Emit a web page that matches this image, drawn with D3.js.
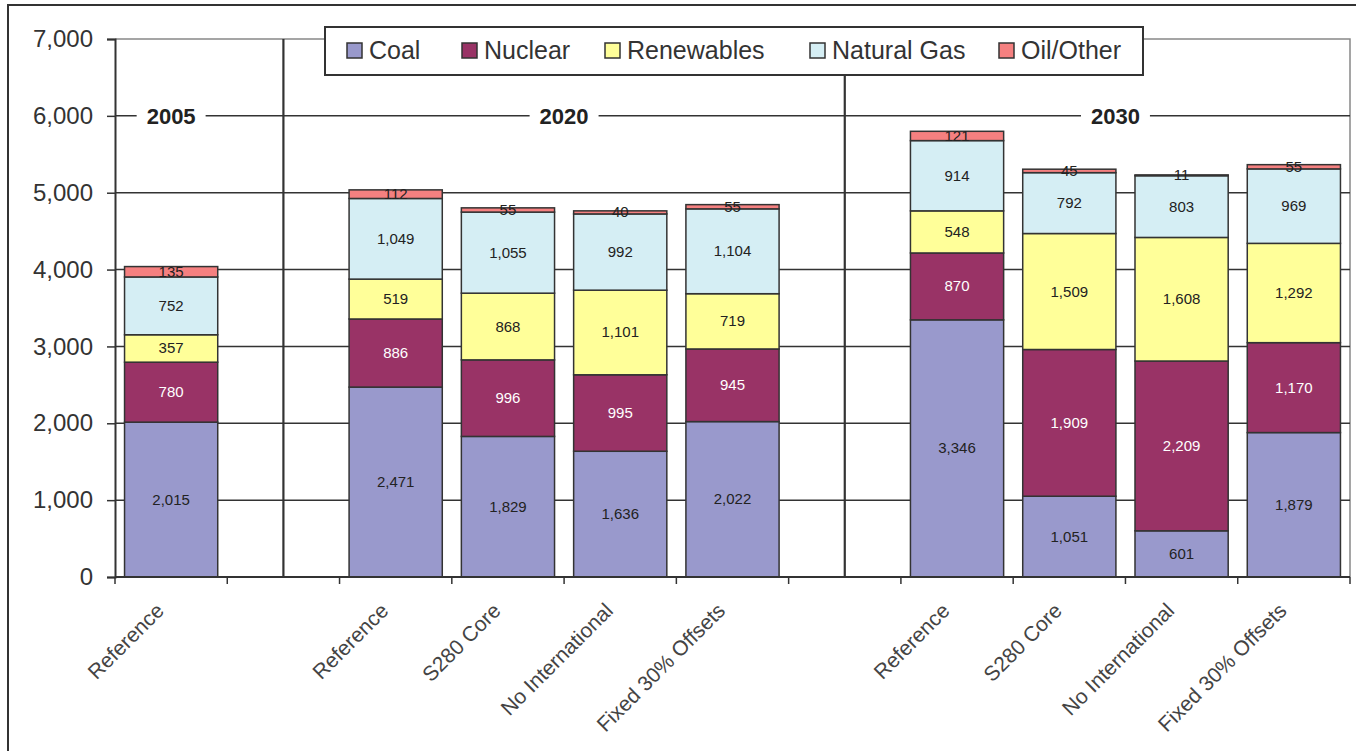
<!DOCTYPE html>
<html>
<head>
<meta charset="utf-8">
<script src="https://cdn.jsdelivr.net/npm/d3@7"></script>
<style>
    body { margin: 0; background: #fff; }
    text { font-family: "Liberation Sans", Arial, sans-serif; }
</style>
</head>
<body>
<svg id="chart" width="1356" height="751"></svg>
<script>
// slots on the x axis (two empty ones separate the years)
var slots = ["r05", "gap1", "r20", "s20", "n20", "f20", "gap2", "r30", "s30", "n30", "f30"];
var slotLabels = ["Reference", "", "Reference", "S280 Core", "No International", "Fixed 30% Offsets",
    "", "Reference", "S280 Core", "No International", "Fixed 30% Offsets"];

var seriesNames = ["Coal", "Nuclear", "Renewables", "Natural Gas", "Oil/Other"];
var coal       = [2015, null, 2471, 1829, 1636, 2022, null, 3346, 1051, 601, 1879];
var nuclear    = [780,  null, 886,  996,  995,  945,  null, 870,  1909, 2209, 1170];
var renewables = [357,  null, 519,  868,  1101, 719,  null, 548,  1509, 1608, 1292];
var naturalGas = [752,  null, 1049, 1055, 992,  1104, null, 914,  792,  803,  969];
var oilOther   = [135,  null, 112,  55,   40,   55,   null, 121,  45,   11,   55];

var years = ["2005", "2020", "2030"];
var yearSlots = [["r05"], ["r20", "s20", "n20", "f20"], ["r30", "s30", "n30", "f30"]];
var dividerSlots = ["gap1", "gap2"];
var yTicks = [0, 1000, 2000, 3000, 4000, 5000, 6000, 7000];

var colors = ["#9999cc", "#993366", "#ffff99", "#d5eef4", "#f58080"];
var labelColors = ["#222", "#fff", "#222", "#222", "#222"];

drawChart();

function drawChart() {
    var svg = d3.select("#chart");
    var pLeft = 115, pRight = 1350, pTop = 39, pBottom = 577;

    var x = d3.scaleBand().domain(slots).range([pLeft, pRight]).paddingInner(0.17).paddingOuter(0.085);
    var y = d3.scaleLinear().domain([0, 7000]).range([pBottom, pTop]);

    // outer frame
    svg.append("rect")
        .attr("x", 8).attr("y", 5)
        .attr("width", 1360).attr("height", 760)
        .attr("fill", "none").attr("stroke", "#333").attr("stroke-width", 2);

    // plot border (light)
    svg.append("path")
        .attr("d", "M" + pLeft + "," + pTop + "H" + pRight + "V" + pBottom)
        .attr("fill", "none").attr("stroke", "#888").attr("stroke-width", 1.5);

    // gridlines
    svg.append("g").selectAll("line")
        .data(yTicks.filter(function (d) { return d > 0 && d < 7000; }))
        .enter().append("line")
        .attr("x1", pLeft).attr("x2", pRight)
        .attr("y1", function (d) { return y(d); })
        .attr("y2", function (d) { return y(d); })
        .attr("stroke", "#333").attr("stroke-width", 1.5);

    // year dividers
    svg.append("g").selectAll("line")
        .data(dividerSlots)
        .enter().append("line")
        .attr("x1", function (d) { return x(d) + x.bandwidth() / 2; })
        .attr("x2", function (d) { return x(d) + x.bandwidth() / 2; })
        .attr("y1", pTop).attr("y2", pBottom)
        .attr("stroke", "#333").attr("stroke-width", 2.2);

    // year labels on the 6000 line
    svg.append("g").selectAll("g")
        .data(years)
        .enter().append("g")
        .each(function (d, i) {
            var s = yearSlots[i];
            var cx = (x(s[0]) + x(s[s.length - 1]) + x.bandwidth()) / 2;
            if (i == 2) cx -= 10;
            var g = d3.select(this);
            var t = g.append("text")
                .attr("x", cx).attr("y", y(6000) + 8)
                .attr("text-anchor", "middle")
                .attr("font-size", 22).attr("font-weight", "bold").attr("fill", "#222")
                .text(d);
            var w = t.node().getComputedTextLength();
            g.insert("rect", "text")
                .attr("x", cx - w / 2 - 10).attr("y", y(6000) - 10)
                .attr("width", w + 20).attr("height", 20)
                .attr("fill", "#fff");
        });

    // stacked bars
    var rows = slots.map(function (s, i) {
        return {slot: s, "Coal": coal[i], "Nuclear": nuclear[i], "Renewables": renewables[i],
            "Natural Gas": naturalGas[i], "Oil/Other": oilOther[i]};
    }).filter(function (r) { return r["Coal"] != null; });

    var layers = d3.stack().keys(seriesNames)(rows);

    var layerG = svg.append("g").selectAll("g")
        .data(layers)
        .enter().append("g")
        .attr("fill", function (d, i) { return colors[i]; });

    layerG.selectAll("rect")
        .data(function (d) { return d; })
        .enter().append("rect")
        .attr("x", function (d) { return x(d.data.slot); })
        .attr("width", x.bandwidth())
        .attr("y", function (d) { return y(d[1]); })
        .attr("height", function (d) { return y(d[0]) - y(d[1]); })
        .attr("stroke", "#333").attr("stroke-width", 1.5);

    layerG.each(function (layer, i) {
        d3.select(this).selectAll("text")
            .data(layer)
            .enter().append("text")
            .attr("x", function (d) { return x(d.data.slot) + x.bandwidth() / 2; })
            .attr("y", function (d) { return (y(d[0]) + y(d[1])) / 2 + 5; })
            .attr("text-anchor", "middle")
            .attr("font-size", 15)
            .attr("fill", labelColors[i])
            .text(function (d) { return d3.format(",")(d[1] - d[0]); });
    });

    // y axis
    var yAxis = svg.append("g")
        .attr("transform", "translate(" + pLeft + ",0)")
        .call(d3.axisLeft(y).tickValues(yTicks).tickFormat(d3.format(",")).tickSize(8).tickPadding(14));
    yAxis.select(".domain").attr("stroke", "#333").attr("stroke-width", 2);
    yAxis.selectAll(".tick line").attr("stroke", "#333").attr("stroke-width", 1.5);
    yAxis.selectAll(".tick text")
        .attr("font-size", 24).attr("fill", "#333")
        .attr("font-family", "Liberation Sans, Arial, sans-serif");

    // x axis: ticks at slot boundaries
    var step = x.step();
    var bounds = d3.range(slots.length + 1).map(function (i) { return pLeft + i * step; });
    svg.append("line")
        .attr("x1", pLeft).attr("x2", pRight)
        .attr("y1", pBottom).attr("y2", pBottom)
        .attr("stroke", "#333").attr("stroke-width", 2);
    svg.append("g").selectAll("line")
        .data(bounds)
        .enter().append("line")
        .attr("x1", function (d) { return d; }).attr("x2", function (d) { return d; })
        .attr("y1", pBottom).attr("y2", pBottom + 7)
        .attr("stroke", "#333").attr("stroke-width", 1.5);

    svg.append("g").selectAll("text")
        .data(slots)
        .enter().append("text")
        .attr("transform", function (d) {
            return "translate(" + (x(d) + x.bandwidth() / 2 - 6) + "," + (pBottom + 35) + ") rotate(-45)";
        })
        .attr("text-anchor", "end")
        .attr("font-size", 21)
        .attr("fill", "#444")
        .text(function (d, i) { return slotLabels[i]; });

    // legend
    var legendX = [347, 462, 605, 810, 999];
    var legend = svg.append("g");
    legend.append("rect")
        .attr("x", 325).attr("y", 27).attr("width", 818).attr("height", 48)
        .attr("fill", "#fff").attr("stroke", "#333").attr("stroke-width", 2);
    var items = legend.selectAll("g.item")
        .data(seriesNames)
        .enter().append("g")
        .attr("transform", function (d, i) { return "translate(" + legendX[i] + ",0)"; });
    items.append("rect")
        .attr("x", 0).attr("y", 43).attr("width", 15).attr("height", 15)
        .attr("fill", function (d, i) { return colors[i]; })
        .attr("stroke", "#333").attr("stroke-width", 1.5);
    items.append("text")
        .attr("x", 22).attr("y", 59)
        .attr("font-size", 25).attr("fill", "#333")
        .text(function (d) { return d; });
}
</script>
</body>
</html>
